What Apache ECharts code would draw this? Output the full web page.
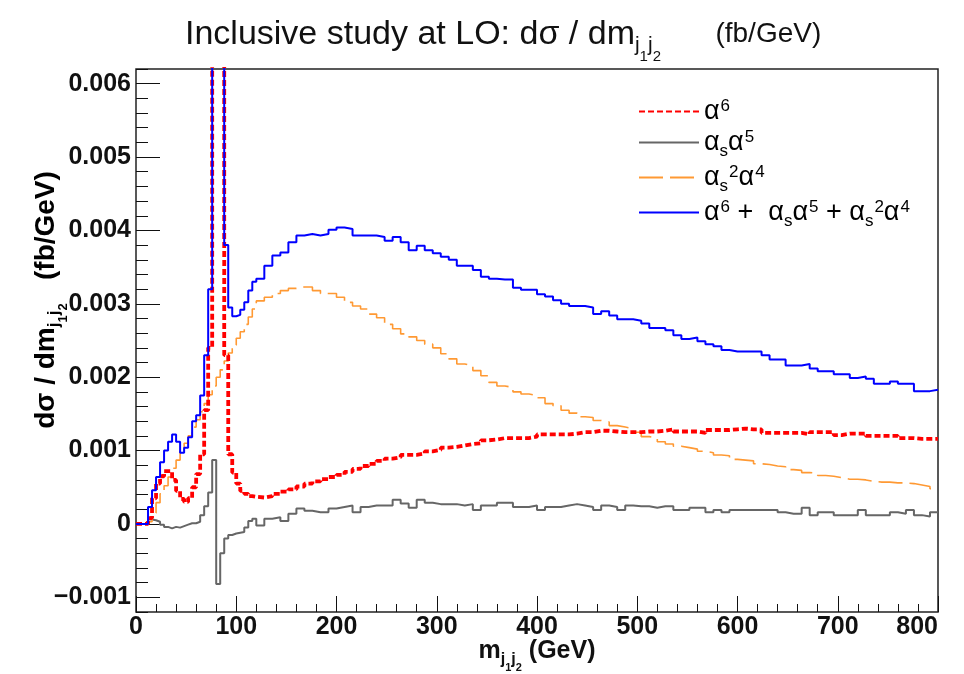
<!DOCTYPE html>
<html>
<head>
<meta charset="utf-8">
<script src="https://cdn.jsdelivr.net/npm/echarts@6/dist/echarts.min.js"></script>
<style>html,body{margin:0;padding:0;background:#fff}#c{width:964px;height:674px}</style>
</head>
<body>
<div id="c"></div>
<script>
// ---------- data (values in units of 1e-3 fb/GeV) ----------
const UNIT = 0.001;
const fineBinWidth = 4;    // GeV, bins from 0 to 120
const coarseBinWidth = 8;  // GeV, bins from 120 to 800
const xMax = 800;

const alpha6Fine = [0,0,0,0.08,0.35,0.55,0.65,0.72,0.72,0.6,0.45,0.34,0.3,0.35,0.5,0.68,0.95,1.55,2.4,8.5,12.0,6.5,2.3,0.95,0.7,0.55,0.45,0.41,0.38,0.37];
const alpha6Coarse = [
  0.36,0.38,0.41,0.44,0.47,0.51,0.55,0.58,0.61,0.64,
  0.67,0.71,0.75,0.79,0.82,0.86,0.89,0.91,0.94,0.94,
  0.96,0.99,1.01,1.04,1.05,1.07,1.09,1.10,1.14,1.15,
  1.17,1.17,1.17,1.17,1.19,1.22,1.22,1.22,1.22,1.23,
  1.25,1.25,1.27,1.27,1.26,1.25,1.25,1.25,1.26,1.26,
  1.27,1.29,1.26,1.26,1.26,1.24,1.28,1.28,1.28,1.29,
  1.30,1.29,1.29,1.24,1.24,1.24,1.24,1.24,1.22,1.25,
  1.25,1.25,1.21,1.23,1.23,1.23,1.20,1.20,1.20,1.20,
  1.17,1.17,1.16,1.16,1.16];

const asA5Fine = [0,0,0,0.06,0.05,0.03,-0.01,-0.04,-0.06,-0.04,-0.05,-0.03,-0.01,0.01,0.01,0.03,0.12,0.24,0.43,0.87,-0.82,-0.4,-0.2,-0.15,-0.13,-0.12,-0.11,-0.05,0.04,0.07];
const asA5Coarse = [
  -0.02,0.07,0.09,0.04,0.14,0.21,0.18,0.16,0.16,0.21,
  0.23,0.25,0.16,0.23,0.25,0.25,0.25,0.33,0.28,0.22,
  0.33,0.29,0.27,0.27,0.27,0.25,0.27,0.19,0.25,0.25,
  0.29,0.29,0.23,0.23,0.25,0.19,0.23,0.23,0.25,0.27,
  0.25,0.23,0.19,0.25,0.23,0.19,0.25,0.24,0.24,0.22,
  0.24,0.24,0.19,0.19,0.22,0.22,0.16,0.19,0.16,0.19,
  0.19,0.19,0.19,0.19,0.19,0.16,0.14,0.14,0.22,0.12,
  0.16,0.16,0.12,0.12,0.12,0.19,0.12,0.12,0.12,0.16,
  0.14,0.19,0.12,0.10,0.16];

const as2A4Fine = [0,0,0,0.03,0.15,0.29,0.41,0.52,0.64,0.76,0.87,0.99,1.1,1.2,1.32,1.42,1.53,1.64,1.76,1.88,2.0,2.1,2.22,2.33,2.44,2.53,2.62,2.72,2.82,2.93];
const as2A4Coarse = [
  3.04,3.09,3.14,3.18,3.21,3.23,3.23,3.18,3.14,3.14,
  3.09,3.02,2.97,2.93,2.86,2.81,2.72,2.66,2.59,2.55,
  2.50,2.45,2.40,2.32,2.25,2.18,2.16,2.09,2.02,1.93,
  1.88,1.86,1.80,1.77,1.75,1.72,1.64,1.61,1.55,1.51,
  1.46,1.45,1.41,1.39,1.34,1.32,1.30,1.25,1.19,1.17,
  1.12,1.09,1.06,1.04,1.02,0.99,0.97,0.94,0.93,0.88,
  0.87,0.86,0.82,0.81,0.79,0.78,0.74,0.73,0.70,0.69,
  0.66,0.65,0.63,0.61,0.61,0.60,0.58,0.57,0.57,0.56,
  0.56,0.55,0.53,0.51,0.48];

const sumFine = [0,0,0,0.23,0.46,0.64,0.84,1.0,1.12,1.22,1.12,0.97,1.04,1.18,1.4,1.48,1.75,2.3,3.2,9.0,12.5,7.0,3.8,2.95,2.83,2.85,2.92,3.02,3.18,3.3];
const sumCoarse = [
  3.34,3.52,3.66,3.70,3.84,3.93,3.95,3.93,3.95,4.01,
  4.04,4.02,3.93,3.93,3.93,3.91,3.86,3.91,3.84,3.73,
  3.79,3.73,3.69,3.64,3.60,3.52,3.52,3.46,3.37,3.34,
  3.33,3.33,3.22,3.19,3.19,3.13,3.10,3.05,3.00,2.97,
  2.97,2.95,2.86,2.90,2.84,2.79,2.79,2.77,2.73,2.67,
  2.67,2.64,2.57,2.52,2.54,2.49,2.45,2.42,2.37,2.35,
  2.35,2.35,2.35,2.30,2.24,2.24,2.16,2.16,2.18,2.12,
  2.08,2.08,2.04,2.04,1.99,2.01,1.98,1.91,1.91,1.94,
  1.91,1.91,1.81,1.81,1.83];

const yMajorTicks = [-0.001,0,0.001,0.002,0.003,0.004,0.005,0.006];
const yLabels = ['\u22120.001','0','0.001','0.002','0.003','0.004','0.005','0.006'];
const xTickLabels = ['0','100','200','300','400','500','600','700','800'];

// ---------- build ----------
function histPoints(fine, coarse) {
  const pts = [];
  let x = 0;
  fine.forEach(v => { pts.push([x, v * UNIT]); x += fineBinWidth; });
  coarse.forEach(v => { pts.push([x, v * UNIT]); x += coarseBinWidth; });
  pts.push([xMax, coarse[coarse.length - 1] * UNIT]);
  return pts;
}

const FONT = 'Liberation Sans, Arial, Helvetica, sans-serif';

function richSet(size, bold, color) {
  const w = bold ? 'bold' : 'normal';
  const s = Math.round(size * 0.62), ss = Math.round(size * 0.45);
  const base = {fontWeight: w, fontFamily: FONT, color, verticalAlign: 'top'};
  return {
    m:   Object.assign({fontSize: size, lineHeight: size, padding: [0,0,0,0]}, base),
    u:   Object.assign({fontSize: Math.round(size*0.83), lineHeight: size, padding: [Math.round(size*0.07),0,0,0]}, base),
    sup: Object.assign({fontSize: s, lineHeight: s, padding: [0,0,0,1]}, base),
    sub: Object.assign({fontSize: s, lineHeight: s, padding: [Math.round(size*0.5),0,0,0]}, base),
    ss:  Object.assign({fontSize: ss, lineHeight: ss, padding: [Math.round(size*0.9),0,0,0]}, base)
  };
}

const chart = echarts.init(document.getElementById('c'), null, {renderer: 'canvas'});

const legendText = {
  'a6': '{m|\u03b1}{sup|6}',
  'asa5': '{m|\u03b1}{sub|s}{m|\u03b1}{sup|5}',
  'as2a4': '{m|\u03b1}{sub|s}{sup|2}{m|\u03b1}{sup|4}',
  'sum': '{m|\u03b1}{sup|6}{m| +  \u03b1}{sub|s}{m|\u03b1}{sup|5}{m| + \u03b1}{sub|s}{sup|2}{m|\u03b1}{sup|4}'
};

const option = {
  animation: false,
  backgroundColor: '#ffffff',
  title: {
    text: '{m|Inclusive study at LO: d\u03c3 / dm}{sub|j}{ss|1}{sub|j}{ss|2}{u|       (fb/GeV)}',
    left: 180,
    top: 13,
    textStyle: {rich: richSet(34, false, '#111')}
  },
  grid: {left: 136, right: 26, top: 69, bottom: 62, outerBoundsMode: 'none',
         show: true, borderColor: '#222', borderWidth: 1.5, backgroundColor: 'transparent'},
  legend: {
    orient: 'vertical',
    left: 633,
    top: 93,
    itemWidth: 60,
    itemHeight: 14,
    itemGap: 4,
    itemStyle: {opacity: 0},
    data: ['a6','asa5','as2a4','sum'],
    formatter: name => legendText[name],
    textStyle: {rich: richSet(27, false, '#000')}
  },
  xAxis: {
    type: 'value', min: 0, max: xMax, interval: 100,
    name: '{m|m}{sub|j}{ss|1}{sub|j}{ss|2}{m| (GeV)}',
    nameLocation: 'middle', nameGap: 27, nameMoveOverlap: false,
    nameTextStyle: {rich: richSet(25, true, '#111'), verticalAlign: 'top'},
    axisLine: {show: false, onZero: false},
    axisTick: {show: true, inside: true, length: 16, lineStyle: {color: '#111', width: 1}},
    minorTick: {show: true, splitNumber: 5, length: 8, lineStyle: {color: '#111', width: 1}},
    axisLabel: {fontFamily: FONT, fontWeight: 'bold', fontSize: 25, color: '#111', margin: 3, alignMaxLabel: 'right',
                formatter: v => xTickLabels[Math.round(v / 100)]},
    splitLine: {show: false}
  },
  yAxis: [{
    type: 'value', min: -0.0012, max: 0.0062,
    axisLine: {show: false, onZero: false},
    axisTick: {show: true, inside: true, length: 24, customValues: yMajorTicks, lineStyle: {color: '#111', width: 1}},
    axisLabel: {customValues: yMajorTicks, fontFamily: FONT, fontWeight: 'bold', fontSize: 25, color: '#111', margin: 5,
                formatter: v => { const i = yMajorTicks.findIndex(t => Math.abs(t - v) < 1e-9); return i >= 0 ? yLabels[i] : ''; }},
    splitLine: {show: false}
  }, {
    type: 'value', min: -0.0012, max: 0.0062, interval: 0.0002, position: 'left', offset: 0,
    axisLine: {show: false, onZero: false},
    axisTick: {show: true, inside: true, length: 12, lineStyle: {color: '#111', width: 1}},
    axisLabel: {show: false},
    splitLine: {show: false}
  }],
  graphic: [{
    type: 'text', x: 46, y: 300, rotation: Math.PI / 2,
    style: {
      text: '{m|d\u03c3 / dm}{sub|j}{ss|1}{sub|j}{ss|2}{m|   (fb/GeV)}',
      rich: richSet(28, true, '#111'), align: 'center', verticalAlign: 'middle'
    }
  }],
  series: [
    {name: 'a6', type: 'line', step: 'end', symbol: 'none', data: histPoints(alpha6Fine, alpha6Coarse),
     lineStyle: {color: '#ff0000', width: 3.8, type: [6, 3]}, itemStyle: {color: '#ff0000'}, z: 3},
    {name: 'asa5', type: 'line', step: 'end', symbol: 'none', data: histPoints(asA5Fine, asA5Coarse),
     lineStyle: {color: '#666666', width: 2}, itemStyle: {color: '#666666'}, z: 2},
    {name: 'as2a4', type: 'line', step: 'end', symbol: 'none', data: histPoints(as2A4Fine, as2A4Coarse),
     lineStyle: {color: '#ff9933', width: 1.6, type: [24, 7]}, itemStyle: {color: '#ff9933'}, z: 2},
    {name: 'sum', type: 'line', step: 'end', symbol: 'none', data: histPoints(sumFine, sumCoarse),
     lineStyle: {color: '#0000ff', width: 2}, itemStyle: {color: '#0000ff'}, z: 4}
  ]
};
chart.setOption(option);
</script>
</body>
</html>
